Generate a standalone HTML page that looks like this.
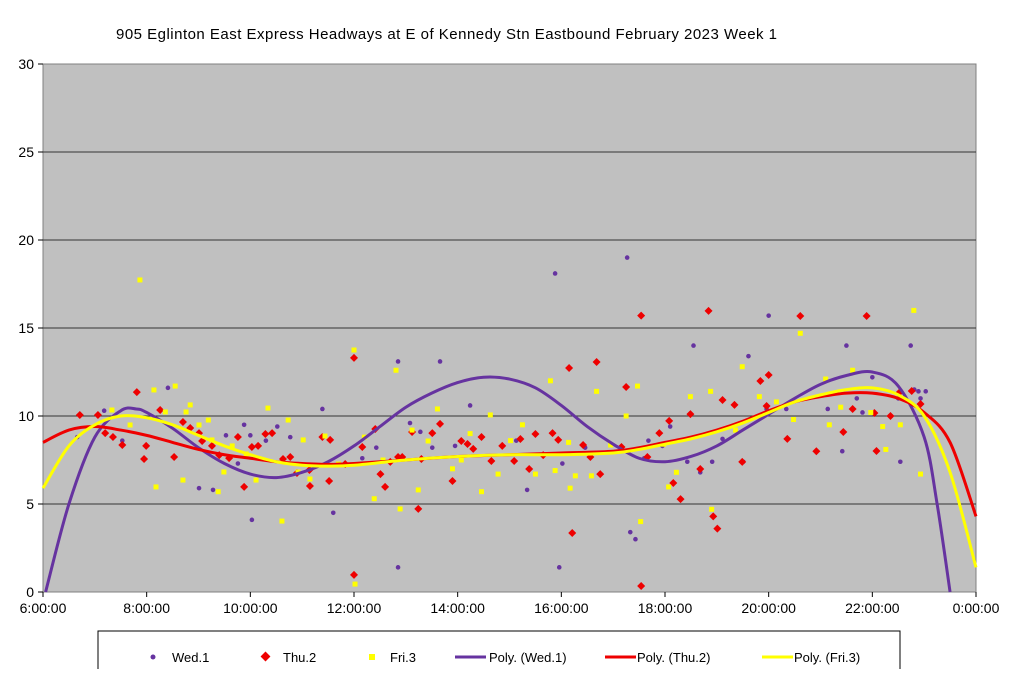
<!DOCTYPE html>
<html><head><meta charset="utf-8">
<style>
html,body{margin:0;padding:0;background:#fff;}
body{width:1024px;height:669px;overflow:hidden;font-family:"Liberation Sans",sans-serif;}
svg text{font-family:"Liberation Sans",sans-serif;}
</style></head>
<body>
<svg id="chart" width="1024" height="669" xmlns="http://www.w3.org/2000/svg">
<text x="116" y="39" font-size="15" textLength="661" lengthAdjust="spacing" fill="#000">905 Eglinton East Express Headways at E of Kennedy Stn Eastbound February 2023  Week 1</text>
<rect x="43" y="64" width="933" height="528" fill="#c0c0c0" stroke="#808080"/>
<g id="grid"></g><g id="axes"></g><g id="marks"></g><g id="trends"></g>
<g>
<rect x="98" y="631" width="802" height="45" fill="#fff" stroke="#000"/>
<g><circle cx="153" cy="657" r="2.5" fill="#6633a0"/><text x="172" y="662" font-size="13">Wed.1</text></g>
<g><rect x="262" y="653" width="7" height="7" transform="rotate(45 265.5 656.5)" fill="#ee0000"/><text x="283" y="662" font-size="13">Thu.2</text></g>
<g><rect x="369" y="654" width="6" height="6" fill="#ffff00"/><text x="390" y="662" font-size="13">Fri.3</text></g>
<g><line x1="455" y1="657" x2="486" y2="657" stroke="#6633a0" stroke-width="3"/><text x="489" y="662" font-size="13">Poly. (Wed.1)</text></g>
<g><line x1="605" y1="657" x2="636" y2="657" stroke="#ee0000" stroke-width="3"/><text x="637" y="662" font-size="13">Poly. (Thu.2)</text></g>
<g><line x1="762" y1="657" x2="793" y2="657" stroke="#ffff00" stroke-width="3"/><text x="794" y="662" font-size="13">Poly. (Fri.3)</text></g>
</g>
</svg>
<script>
const yTicks=[0,5,10,15,20,25,30];
const xTickHours=[6,8,10,12,14,16,18,20,22,24];
const xTickLabels=["6:00:00","8:00:00","10:00:00","12:00:00","14:00:00","16:00:00","18:00:00","20:00:00","22:00:00","0:00:00"];
const wedT=[6.66,7.18,7.53,8.41,9.01,9.28,9.53,9.76,9.88,10.0,10.03,10.3,10.52,10.77,11.39,11.6,12.16,12.43,12.85,12.85,13.08,13.28,13.51,13.66,13.95,14.24,15.13,15.34,15.88,15.96,16.02,16.46,17.27,17.33,17.43,17.6,17.68,17.95,18.1,18.43,18.55,18.68,18.91,19.11,19.51,19.61,19.84,19.96,20.0,20.34,21.14,21.42,21.5,21.7,21.81,22.0,22.54,22.5,22.74,22.81,22.89,22.93,23.03];
const wedV=[8.8,10.3,8.6,11.6,5.9,5.8,8.9,7.3,9.5,8.9,4.1,8.6,9.4,8.8,10.4,4.5,7.6,8.2,13.1,1.4,9.6,9.1,8.2,13.1,8.3,10.6,8.6,5.8,18.1,1.4,7.3,8.2,19.0,3.4,3.0,7.6,8.6,8.3,9.4,7.4,14.0,6.8,7.4,8.7,7.4,13.4,12.0,10.4,15.7,10.4,10.4,8.0,14.0,11.0,10.2,12.2,7.4,11.0,14.0,11.5,11.4,11.0,11.4];
const thuT=[6.71,7.06,7.2,7.35,7.53,7.81,7.95,7.99,8.26,8.53,8.7,8.84,9.01,9.07,9.26,9.4,9.59,9.76,9.88,10.03,10.15,10.29,10.42,10.63,10.77,10.9,11.14,11.15,11.39,11.52,11.54,11.83,12.0,12.0,12.16,12.41,12.51,12.6,12.7,12.85,12.93,13.12,13.24,13.3,13.51,13.66,13.9,14.07,14.19,14.3,14.46,14.65,14.86,15.09,15.21,15.38,15.5,15.65,15.83,15.94,16.15,16.21,16.42,16.56,16.68,16.75,17.16,17.25,17.54,17.54,17.66,17.89,18.08,18.16,18.3,18.49,18.68,18.84,18.93,19.01,19.11,19.34,19.49,19.84,19.96,20.0,20.36,20.61,20.92,21.44,21.62,21.89,22.04,22.08,22.35,22.53,22.76,22.93];
const thuV=[10.06,10.06,9.03,8.81,8.35,11.36,7.56,8.3,10.34,7.67,9.66,9.32,9.03,8.58,8.3,7.78,7.61,8.81,5.97,8.24,8.3,8.98,9.03,7.56,7.67,6.76,6.93,6.02,8.81,6.31,8.64,7.27,13.3,0.97,8.24,9.26,6.7,5.97,7.39,7.67,7.67,9.09,4.72,7.56,9.03,9.55,6.31,8.58,8.41,8.13,8.81,7.44,8.3,7.44,8.69,6.99,8.98,7.78,9.03,8.64,12.73,3.35,8.35,7.67,13.07,6.7,8.24,11.65,15.7,0.34,7.67,9.03,9.72,6.19,5.28,10.11,6.99,15.97,4.3,3.6,10.91,10.63,7.39,11.99,10.57,12.33,8.7,15.68,8.0,9.09,10.4,15.68,10.17,8.01,10.0,11.36,11.42,10.68];
const friT=[7.87,7.68,7.33,8.14,8.18,8.36,8.55,8.7,8.76,8.84,9.01,9.19,9.26,9.38,9.49,9.65,9.92,10.11,10.34,10.61,10.73,10.92,11.02,11.15,11.44,11.7,12.0,12.02,12.2,12.39,12.56,12.81,12.89,13.12,13.24,13.43,13.61,13.9,14.07,14.24,14.46,14.63,14.78,15.02,15.25,15.5,15.79,15.88,16.14,16.17,16.27,16.58,16.68,16.95,17.25,17.47,17.53,17.97,18.07,18.22,18.49,18.88,18.9,19.36,19.49,19.82,20.15,20.48,20.61,21.1,21.17,21.39,21.62,21.97,22.2,22.26,22.54,22.8,22.93];
const friV=[17.73,9.49,10.34,11.48,5.97,10.23,11.7,6.36,10.23,10.63,9.49,9.77,8.64,5.7,6.82,8.3,7.84,6.36,10.45,4.03,9.77,6.82,8.64,6.42,8.86,7.27,13.75,0.45,8.8,5.3,7.5,12.6,4.72,9.2,5.8,8.58,10.4,7.0,7.5,9.0,5.7,10.06,6.7,8.6,9.5,6.7,12.0,6.9,8.5,5.9,6.6,6.6,11.4,8.35,10.0,11.7,4.0,8.4,5.97,6.8,11.1,11.4,4.7,9.2,12.8,11.1,10.8,9.8,14.7,12.1,9.5,10.5,12.6,10.2,9.4,8.1,9.5,16.0,6.7];
const polyWedT=[6.05,6.5,7,7.5,7.8,8,8.5,9,9.5,10,10.5,11,11.5,12,12.5,13,13.5,14,14.5,15,15.5,16,16.5,17,17.5,18,18.5,19,19.5,20,20.5,21,21.5,22,22.5,23,23.25,23.5];
const polyWedV=[0,5,8.8,10.3,10.4,10.2,9.3,8.2,7.3,6.7,6.5,6.8,7.4,8.3,9.4,10.5,11.3,11.9,12.2,12.1,11.6,10.6,9.4,8.4,7.6,7.4,7.7,8.3,9.2,10.1,11.0,11.8,12.3,12.5,11.7,8.8,5,0];
const polyThuT=[6,6.5,7,7.5,8,8.5,9,9.5,10,10.5,11,11.5,12,13,14,15,16,17,17.5,18,18.5,19,19.5,20,20.5,21,21.5,22,22.5,23,23.5,24];
const polyThuV=[8.5,9.2,9.4,9.2,8.9,8.5,8.1,7.8,7.6,7.4,7.3,7.25,7.3,7.5,7.7,7.8,7.9,8.0,8.2,8.5,8.8,9.2,9.7,10.3,10.8,11.1,11.3,11.3,11.0,10.2,8.5,4.3];
const polyFriT=[6,6.5,7,7.5,8,8.5,9,9.5,10,10.5,11,11.5,12,13,14,15,16,17,17.5,18,18.5,19,19.5,20,20.5,21,21.5,22,22.5,23,23.5,24];
const polyFriV=[5.9,8.3,9.5,10.0,9.9,9.5,8.9,8.3,7.8,7.4,7.2,7.15,7.2,7.5,7.7,7.8,7.8,7.9,8.1,8.4,8.7,9.1,9.6,10.2,10.8,11.2,11.5,11.6,11.2,10.0,6.8,1.4];

const NS="http://www.w3.org/2000/svg";
const X0=43,X1=976,Y0=592,Y1=64;
function xs(h){return X0+(h-6)/18*(X1-X0);}
function ys(v){return Y0-v/30*(Y0-Y1);}
function mk(tag,attrs,parent){const e=document.createElementNS(NS,tag);for(const k in attrs)e.setAttribute(k,attrs[k]);document.getElementById(parent).appendChild(e);return e;}

yTicks.forEach(v=>{
  if(v>0&&v<30){const g=mk('line',{x1:X0,x2:X1,y1:ys(v),y2:ys(v),stroke:'#333','stroke-width':1},'grid');
  
  }
  const t=mk('line',{x1:X0-5,x2:X0,y1:ys(v),y2:ys(v),stroke:'#000'},'axes');
  
  
  const l=mk('text',{x:X0-9,y:ys(v)+5,'text-anchor':'end','font-size':14},'axes');
  l.textContent=v;
  
  
});
xTickHours.forEach((h,i)=>{
  const t=mk('line',{x1:xs(h),x2:xs(h),y1:Y0,y2:Y0+5,stroke:'#000'},'axes');
  
  
  const l=mk('text',{x:xs(h),y:Y0+21,'text-anchor':'middle','font-size':14},'axes');
  l.textContent=xTickLabels[i];
  
  
});
wedT.forEach((h,i)=>{
  const c=mk('circle',{cx:xs(h),cy:ys(wedV[i]),r:2.3,fill:'#6633a0'},'marks');
  
  
});
thuT.forEach((h,i)=>{
  const x=xs(h),y=ys(thuV[i]);
  const p=mk('polygon',{points:`${x},${y-4} ${x+4},${y} ${x},${y+4} ${x-4},${y}`,fill:'#ee0000'},'marks');
  
  
});
friT.forEach((h,i)=>{
  const r=mk('rect',{x:xs(h)-2.5,y:ys(friV[i])-2.5,width:5,height:5,fill:'#ffff00'},'marks');
  
  
});
function smooth(T,V){
  const P=T.map((t,i)=>[xs(t),ys(V[i])]);
  let d=`M${P[0][0]},${P[0][1]}`;
  for(let i=0;i<P.length-1;i++){
    const p0=P[i-1]||P[i],p1=P[i],p2=P[i+1],p3=P[i+2]||p2;
    const c1=[p1[0]+(p2[0]-p0[0])/6,p1[1]+(p2[1]-p0[1])/6];
    const c2=[p2[0]-(p3[0]-p1[0])/6,p2[1]-(p3[1]-p1[1])/6];
    d+=` C${c1[0]},${c1[1]} ${c2[0]},${c2[1]} ${p2[0]},${p2[1]}`;
  }
  return d;
}
const tw=mk('path',{d:smooth(polyWedT,polyWedV),fill:'none',stroke:'#6633a0','stroke-width':3},'trends');


const tt=mk('path',{d:smooth(polyThuT,polyThuV),fill:'none',stroke:'#ee0000','stroke-width':3},'trends');


const tf=mk('path',{d:smooth(polyFriT,polyFriV),fill:'none',stroke:'#ffff00','stroke-width':3},'trends');


</script>
</body></html>
